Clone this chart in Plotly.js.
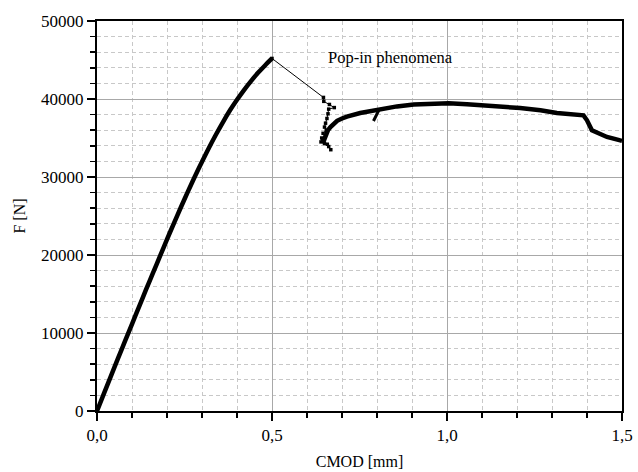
<!DOCTYPE html>
<html>
<head>
<meta charset="utf-8">
<script src="https://cdn.plot.ly/plotly-3.0.1.min.js"></script>
<style>html,body{margin:0;padding:0;background:#fff;}#chart{width:638px;height:472px;}</style>
</head>
<body>
<div id="chart"></div>
<script>
// Loading branch up to peak
const riseX = [0, 0.02, 0.04, 0.06, 0.08, 0.10, 0.12, 0.14, 0.16, 0.18, 0.20, 0.22, 0.24, 0.26, 0.28, 0.30, 0.32, 0.34, 0.36, 0.38, 0.40, 0.42, 0.44, 0.46, 0.48, 0.50];
const riseF = [0, 2250, 4500, 6750, 8950, 11150, 13350, 15550, 17700, 19850, 22000, 24100, 26150, 28150, 30100, 31950, 33750, 35450, 37050, 38550, 39900, 41150, 42300, 43350, 44300, 45200];

// Pop-in (thin line with markers)
const popX = [0.500, 0.647, 0.648, 0.664, 0.678, 0.662, 0.660, 0.657, 0.653, 0.650, 0.655, 0.646, 0.652, 0.642, 0.648, 0.640, 0.650, 0.645, 0.658, 0.662, 0.668];
const popF = [45200, 40200, 39700, 39300, 38900, 38700, 38100, 37500, 36900, 36400, 36000, 35600, 35300, 35000, 34800, 34500, 34300, 34700, 34200, 33900, 33500];

// Post pop-in branch
const postX = [0.645, 0.650, 0.655, 0.660, 0.667, 0.676, 0.686, 0.700, 0.714, 0.752, 0.800, 0.857, 0.905, 0.952, 1.005, 1.057, 1.095, 1.143, 1.209, 1.267, 1.314, 1.390, 1.400, 1.414, 1.457, 1.495, 1.500];
const postF = [34300, 35000, 35600, 36000, 36400, 36850, 37200, 37500, 37750, 38200, 38600, 39050, 39280, 39400, 39450, 39320, 39230, 39060, 38850, 38550, 38210, 37900, 37270, 35990, 35130, 34700, 34650];

// Small spur
const spurX = [0.790, 0.805];
const spurF = [37180, 38550];

const xTickVals = [0, 0.5, 1.0, 1.5];
const xTickText = ["0,0", "0,5", "1,0", "1,5"];
const yTickVals = [0, 10000, 20000, 30000, 40000, 50000];
const yTickText = ["0", "10000", "20000", "30000", "40000", "50000"];

const serif = "Liberation Serif, Times New Roman, serif";

const traces = [
  {x: riseX, y: riseF, mode: 'lines', line: {color: '#000', width: 4.5, shape: 'spline', smoothing: 0.8}, hoverinfo: 'skip'},
  {x: popX, y: popF, mode: 'lines+markers', line: {color: '#000', width: 1}, marker: {symbol: 'square', size: 3.5, color: '#000'}, hoverinfo: 'skip'},
  {x: postX, y: postF, mode: 'lines', line: {color: '#000', width: 4.5}, hoverinfo: 'skip'},
  {x: spurX, y: spurF, mode: 'lines', line: {color: '#000', width: 3}, hoverinfo: 'skip'}
];

const axisCommon = {
  showline: true, linecolor: '#000', linewidth: 2, mirror: true,
  ticks: 'outside', ticklen: 8, tickwidth: 1.5, tickcolor: '#000',
  showgrid: true, gridcolor: '#a8a8a8', gridwidth: 1,
  zeroline: false,
  tickfont: {family: serif, size: 17, color: '#000'}
};

const layout = {
  width: 638, height: 472,
  margin: {l: 97, r: 16, t: 21, b: 61},
  paper_bgcolor: '#fff', plot_bgcolor: '#fff',
  showlegend: false,
  xaxis: Object.assign({}, axisCommon, {
    range: [0, 1.5], tickvals: xTickVals, ticktext: xTickText,
    minor: {dtick: 0.1, tick0: 0, showgrid: true, gridcolor: '#c8c8c8', griddash: '4px,3px', gridwidth: 1, ticks: 'outside', ticklen: 5, tickcolor: '#000', tickwidth: 1.5},
    title: {text: 'CMOD [mm]', font: {family: serif, size: 16, color: '#000'}, standoff: 11}
  }),
  yaxis: Object.assign({}, axisCommon, {
    range: [0, 50000], tickvals: yTickVals, ticktext: yTickText,
    minor: {dtick: 2000, tick0: 0, showgrid: true, gridcolor: '#c8c8c8', griddash: '4px,3px', gridwidth: 1, ticks: 'outside', ticklen: 5, tickcolor: '#000', tickwidth: 1.5},
    title: {text: 'F [N]', font: {family: serif, size: 16, color: '#000'}, standoff: 11}
  }),
  annotations: [{
    x: 0.838, y: 45350, xref: 'x', yref: 'y', text: 'Pop-in phenomena', showarrow: false,
    font: {family: serif, size: 16.5, color: '#000'}
  }]
};

Plotly.newPlot('chart', traces, layout, {staticPlot: true, displayModeBar: false});
</script>
</body>
</html>
